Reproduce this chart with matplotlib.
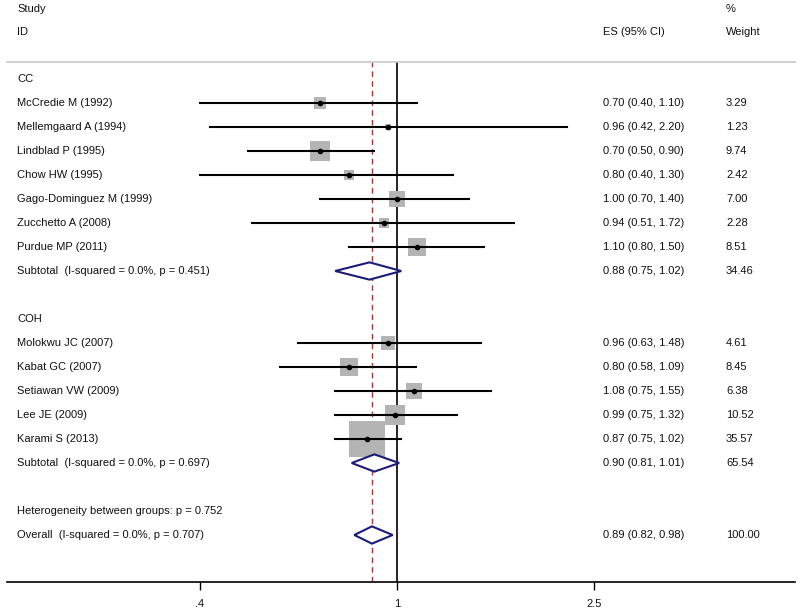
import numpy as np
import matplotlib
matplotlib.use("Agg")
import matplotlib.pyplot as plt
from matplotlib.patches import Polygon

plt.rcParams["font.family"] = ["Liberation Sans", "DejaVu Sans"]

# ---- data ----
cc_studies = ["McCredie M (1992)", "Mellemgaard A (1994)", "Lindblad P (1995)",
              "Chow HW (1995)", "Gago-Dominguez M (1999)", "Zucchetto A (2008)",
              "Purdue MP (2011)"]
cc_es = [0.70, 0.96, 0.70, 0.80, 1.00, 0.94, 1.10]
cc_lo = [0.40, 0.42, 0.50, 0.40, 0.70, 0.51, 0.80]
cc_hi = [1.10, 2.20, 0.90, 1.30, 1.40, 1.72, 1.50]
cc_w = [3.29, 1.23, 9.74, 2.42, 7.00, 2.28, 8.51]

coh_studies = ["Molokwu JC (2007)", "Kabat GC (2007)", "Setiawan VW (2009)",
               "Lee JE (2009)", "Karami S (2013)"]
coh_es = [0.96, 0.80, 1.08, 0.99, 0.87]
coh_lo = [0.63, 0.58, 0.75, 0.75, 0.75]
coh_hi = [1.48, 1.09, 1.55, 1.32, 1.02]
coh_w = [4.61, 8.45, 6.38, 10.52, 35.57]

sub_labels = ["Subtotal  (I-squared = 0.0%, p = 0.451)",
              "Subtotal  (I-squared = 0.0%, p = 0.697)"]
sub_es = [0.88, 0.90]
sub_lo = [0.75, 0.81]
sub_hi = [1.02, 1.01]
sub_w = [34.46, 65.54]

overall_label = "Overall  (I-squared = 0.0%, p = 0.707)"
overall_es, overall_lo, overall_hi, overall_w = 0.89, 0.82, 0.98, 100.00
het_label = "Heterogeneity between groups: p = 0.752"

xticks = [0.4, 1, 2.5]
xticklabels = [".4", "1", "2.5"]

# ---- layout ----
W, H = 800, 615
fig = plt.figure(figsize=(W / 100, H / 100), dpi=100)
left_px, right_px, top_px, bot_px = 7, 795, 62, 582
ax = fig.add_axes([left_px / W, 1 - bot_px / H,
                   (right_px - left_px) / W, (bot_px - top_px) / H])

row0_px, row_step = 79, 24
ax.set_xscale("log")
px_per_log = 215.0
x_at = lambda px: np.exp((px - 397) / px_per_log)
ax.set_xlim(x_at(left_px), x_at(right_px))
ax.set_ylim((bot_px - row0_px) / row_step, (top_px - row0_px) / row_step)

txt_col = "#111111"
fs = 8
span = right_px - left_px
lab_x, es_x, w_x = (17 - left_px) / span, (603 - left_px) / span, (726 - left_px) / span
tr = ax.get_yaxis_transform()


def put_text(x, r, s):
    ax.text(x, r, s, transform=tr, ha="left", va="center",
            fontsize=fs, color=txt_col, clip_on=False)


def put_row(r, label, es=None, lo=None, hi=None, w=None):
    put_text(lab_x, r, label)
    if es is not None:
        put_text(es_x, r, f"{es:.2f} ({lo:.2f}, {hi:.2f})")
        put_text(w_x, r, f"{w:.2f}")


def study(r, label, es, lo, hi, w):
    side_pt = 6.2 * np.sqrt(w) * 0.72
    ax.scatter([es], [r], marker="s", s=side_pt ** 2, color="#b4b4b4",
               linewidths=0, zorder=2)
    ax.plot([lo, hi], [r, r], color="black", lw=1.5, zorder=3)
    ax.plot([es], [r], marker="o", ms=3, color="black", zorder=4)
    put_row(r, label, es, lo, hi, w)


def diamond(r, label, es, lo, hi, w):
    h = 0.36
    poly = Polygon([(lo, r), (es, r - h), (hi, r), (es, r + h)], closed=True,
                   facecolor="white", edgecolor="#1c1c78", lw=1.5, zorder=5)
    ax.add_patch(poly)
    put_row(r, label, es, lo, hi, w)


# headers
hdr1, hdr2 = (9 - row0_px) / row_step, (32 - row0_px) / row_step
put_text(lab_x, hdr1, "Study")
put_text(lab_x, hdr2, "ID")
put_text(es_x, hdr2, "ES (95% CI)")
put_text(w_x, hdr1, "%")
put_text(w_x, hdr2, "Weight")

# reference lines
ax.axvline(1, color="black", lw=1.2, zorder=1)
ax.axvline(overall_es, color="#a03838", lw=1, ls=(0, (4, 3)), zorder=1)

# CC group
put_row(0, "CC")
for i in range(len(cc_studies)):
    study(1 + i, cc_studies[i], cc_es[i], cc_lo[i], cc_hi[i], cc_w[i])
diamond(8, sub_labels[0], sub_es[0], sub_lo[0], sub_hi[0], sub_w[0])

# COH group
put_row(10, "COH")
for i in range(len(coh_studies)):
    study(11 + i, coh_studies[i], coh_es[i], coh_lo[i], coh_hi[i], coh_w[i])
diamond(16, sub_labels[1], sub_es[1], sub_lo[1], sub_hi[1], sub_w[1])

put_row(18, het_label)
diamond(19, overall_label, overall_es, overall_lo, overall_hi, overall_w)

# axes styling
for s in ["left", "right"]:
    ax.spines[s].set_visible(False)
ax.spines["top"].set_color("#c8c8c8")
ax.spines["top"].set_linewidth(1.2)
ax.spines["bottom"].set_linewidth(1.2)
ax.set_yticks([])
ax.set_xticks(xticks)
ax.set_xticklabels(xticklabels, fontsize=fs, color=txt_col)
ax.minorticks_off()
ax.tick_params(axis="x", length=6, width=1, pad=6)

fig.savefig("out.png", dpi=100)
